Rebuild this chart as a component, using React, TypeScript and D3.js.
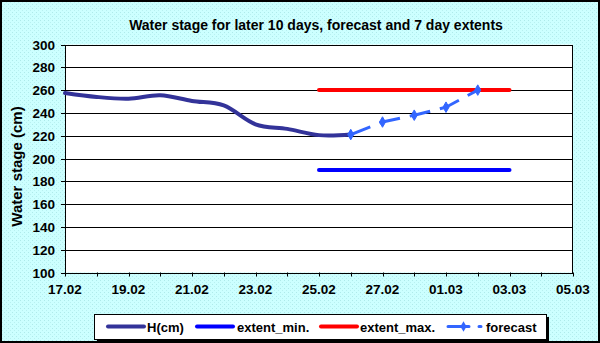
import React from 'react'
import * as d3 from 'd3'

// observed stage, daily
const hDates = ['2023-02-17', '2023-02-18', '2023-02-19', '2023-02-20', '2023-02-21', '2023-02-22', '2023-02-23', '2023-02-24', '2023-02-25', '2023-02-26']
const hValues = [257.5, 254, 252.5, 255.5, 250.5, 246.5, 230, 226, 220.5, 221]

// forecast
const fcDates = ['2023-02-26', '2023-02-27', '2023-02-28', '2023-03-01', '2023-03-02']
const fcValues = [221, 232, 238, 245, 260]

// 7 day extents
const extDates = ['2023-02-25', '2023-02-26', '2023-02-27', '2023-02-28', '2023-03-01', '2023-03-02', '2023-03-03']
const extMin = [190, 190, 190, 190, 190, 190, 190]
const extMax = [260, 260, 260, 260, 260, 260, 260]

const yTicks = [100, 120, 140, 160, 180, 200, 220, 240, 260, 280, 300]
const xStart = '2023-02-17'
const xEnd = '2023-03-05'

const title = 'Water stage for later 10 days, forecast and 7 day extents'
const yTitle = 'Water stage (cm)'
const legendItems = ['H(cm)', 'extent_min.', 'extent_max.', 'forecast']

const W = 600, H = 343
const m = { left: 65, right: 573, top: 44.5, bottom: 272.5 }
const FONT = "Arial, 'Liberation Sans', sans-serif"

const C_H = '#333399', C_MIN = '#0000ff', C_MAX = '#ff0000', C_FC = '#3366ff'

type Pt = { d: Date, v: number }
const pts = (ds: string[], vs: number[]): Pt[] => ds.map((s, i) => ({ d: new Date(s + 'T00:00:00Z'), v: vs[i] }))

export default function App() {
  const x = d3.scaleUtc().domain([new Date(xStart + 'T00:00:00Z'), new Date(xEnd + 'T00:00:00Z')]).range([m.left, m.right])
  const y = d3.scaleLinear().domain([100, 300]).range([m.bottom, m.top])

  const line = d3.line<Pt>().x(p => x(p.d)).y(p => y(p.v))
  const smooth = d3.line<Pt>().x(p => x(p.d)).y(p => y(p.v)).curve(d3.curveCardinal.tension(0))

  const days = d3.utcDay.range(x.domain()[0], d3.utcDay.offset(x.domain()[1], 1))
  const fmt = d3.utcFormat('%d.%m')
  const diamond = d3.symbol().type(d3.symbolDiamond).size(32)()

  const hPts = pts(hDates, hValues)
  const fcPts = pts(fcDates, fcValues)
  const minPts = pts(extDates, extMin)
  const maxPts = pts(extDates, extMax)

  // legend layout
  const lg = { x: 94, y: 314, w: 452, h: 25 }
  const ly = 326.5
  const samples = [
    { x1: 108, x2: 144, tx: 147, color: C_H, sw: 4 },
    { x1: 197, x2: 233, tx: 237, color: C_MIN, sw: 4 },
    { x1: 321, x2: 357, tx: 360, color: C_MAX, sw: 4 },
    { x1: 448, x2: 481, tx: 486, color: C_FC, sw: 3 },
  ]

  return (
    <svg width={W} height={H} style={{ position: 'absolute', left: 0, top: 0 }} fontFamily={FONT}>
      <defs>
        <pattern id="dots" width="4" height="4" patternUnits="userSpaceOnUse">
          <rect width="4" height="4" fill="#ccffff" />
          <rect x="0" y="0" width="1" height="1" fill="#aeeaea" />
          <rect x="2" y="2" width="1" height="1" fill="#b8f0f0" />
        </pattern>
      </defs>
      <rect x={1} y={1} width={W - 2} height={H - 2} fill="url(#dots)" stroke="#000" strokeWidth={2} />

      <text x={316} y={30} textAnchor="middle" fontSize={14} fontWeight="bold">{title}</text>

      {/* plot area */}
      <rect x={m.left} y={m.top} width={m.right - m.left} height={m.bottom - m.top} fill="#fff" />
      {yTicks.map(t => (
        <g key={t}>
          <line x1={m.left - 4} x2={m.right} y1={Math.round(y(t)) + 0.5} y2={Math.round(y(t)) + 0.5} stroke="#000" strokeWidth={1} />
          <text x={55} y={y(t) + 5} textAnchor="end" fontSize={13.5} fontWeight="bold">{t}</text>
        </g>
      ))}
      <rect x={m.left + 0.5} y={Math.round(m.top) + 0.5} width={m.right - m.left - 1} height={Math.round(m.bottom) - Math.round(m.top)} fill="none" stroke="#000" strokeWidth={1} />
      {days.map((d, i) => (
        <g key={i}>
          <line x1={Math.round(x(d)) + 0.5} x2={Math.round(x(d)) + 0.5} y1={m.bottom} y2={m.bottom + 4} stroke="#000" strokeWidth={1} />
          {i % 2 === 0 && (
            <text x={x(d)} y={m.bottom + 21} textAnchor="middle" fontSize={13.5} fontWeight="bold">{fmt(d)}</text>
          )}
        </g>
      ))}
      <text transform={`translate(22,${(m.top + m.bottom) / 2 + 8}) rotate(-90)`} textAnchor="middle" fontSize={15} fontWeight="bold">{yTitle}</text>

      {/* series */}
      <path d={line(minPts) || ''} fill="none" stroke={C_MIN} strokeWidth={4} strokeLinecap="round" />
      <path d={line(maxPts) || ''} fill="none" stroke={C_MAX} strokeWidth={4} strokeLinecap="round" />
      <path d={smooth(hPts) || ''} fill="none" stroke={C_H} strokeWidth={4} strokeLinecap="round" strokeLinejoin="round" />
      <path d={line(fcPts) || ''} fill="none" stroke={C_FC} strokeWidth={3} strokeDasharray="21,10" />
      {fcPts.map((p, i) => (
        <path key={i} d={diamond || ''} transform={`translate(${x(p.d)},${y(p.v)})`} fill={C_FC} stroke={C_FC} strokeWidth={1} />
      ))}

      {/* legend */}
      <rect x={lg.x + 3} y={lg.y + 3} width={lg.w} height={lg.h} fill="#000" />
      <rect x={lg.x + 0.5} y={lg.y + 0.5} width={lg.w} height={lg.h} fill="#fff" stroke="#000" strokeWidth={1} />
      {legendItems.map((name, i) => {
        const s = samples[i]
        return (
          <g key={name}>
            <line x1={s.x1} x2={s.x2} y1={ly} y2={ly} stroke={s.color} strokeWidth={s.sw} strokeLinecap="round"
              strokeDasharray={i === 3 ? '21,10' : undefined} />
            {i === 3 && <path d={diamond || ''} transform={`translate(${(s.x1 + s.x2) / 2 - 1},${ly})`} fill={C_FC} />}
            <text x={s.tx} y={331.5} fontSize={13} fontWeight="bold">{name}</text>
          </g>
        )
      })}
    </svg>
  )
}
